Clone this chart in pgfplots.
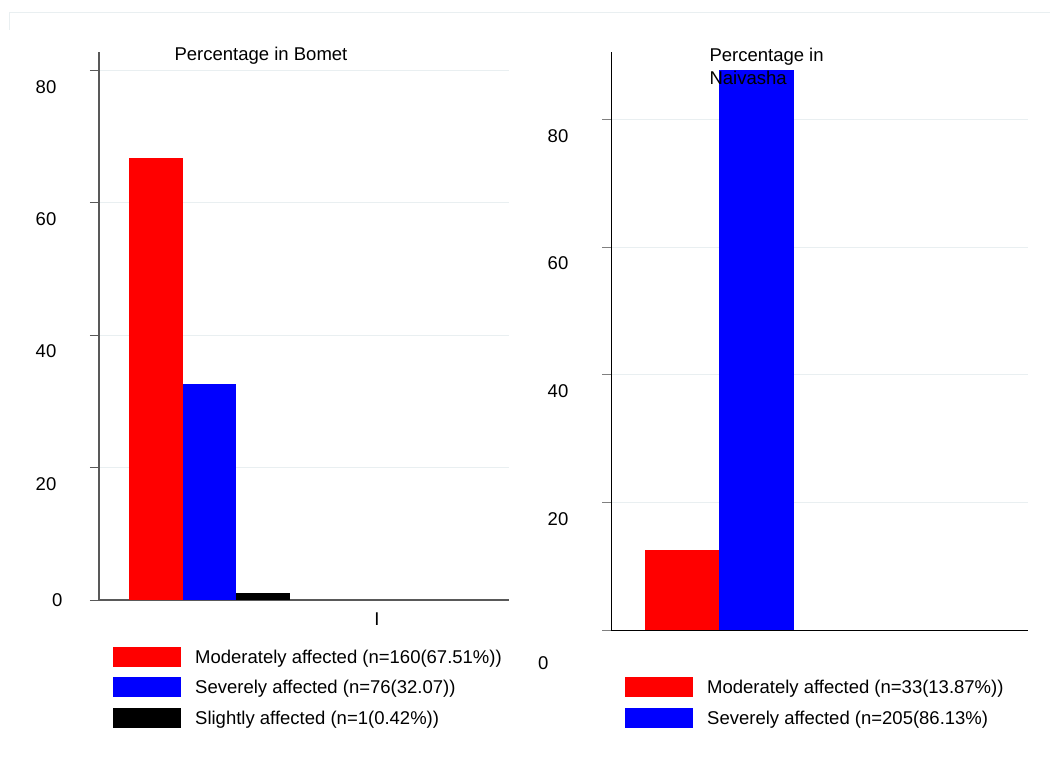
\documentclass[border=0pt]{standalone}
\usepackage{fontspec}
\setmainfont{Liberation Sans}
\usepackage{pgfplots}
\pgfplotsset{compat=1.18}
\definecolor{gridc}{HTML}{E9EFF1}
\pgfplotsset{
  sw/.style={legend image code/.code={\fill[#1] (0pt,-9.6pt) rectangle (68pt,10.4pt);}},
  common/.style={
    scale only axis, anchor=south west,
    axis lines=left, axis line style={-},
    /pgf/number format/assume math mode=true,
    ymin=0,
    ytick={20,40,60,80},
    ymajorgrids, grid style={gridc, line width=1pt},
    tick align=outside, major tick length=9pt,
    ytick style={line width=0.9pt},
    yticklabel style={anchor=east, inner sep=0pt, xshift=-33.5pt, yshift=-16.5pt},
    xtick style={draw=none},
    ybar, bar shift=0pt,
    legend cell align=left,
    legend style={draw=none, fill=none, inner sep=0pt, anchor=north west,
      nodes={inner sep=0pt}, row sep=10.5pt,
      /tikz/every odd column/.append style={column sep=14pt}},
  }
}
\begin{document}
\begin{tikzpicture}[font=\fontsize{18.5pt}{23.3pt}\selectfont]
\path[use as bounding box] (0,0) rectangle (1050pt,772pt);
\draw[gridc, line width=0.8pt] (9pt,742pt) -- (9pt,760pt) -- (1050pt,760pt);
% Left panel: Bomet
\begin{axis}[common,
  at={(99pt,172pt)}, width=410pt, height=548.3pt,
  xmin=0, xmax=410, ymax=82.8,
  axis line style={black!65, line width=1.2pt},
  ytick style={black!65},
  extra y ticks={0},
  extra y tick style={grid=none, yticklabel style={yshift=16.5pt, xshift=6pt}},
  xtick={278}, xticklabels={I},
  bar width=53.7pt,
  legend style={at={(0.0341,-0.0852)}},
]
\addplot[fill=red, draw=none, sw=red] coordinates {(56.9,66.7)};
\addlegendentry{Moderately affected (n=160(67.51\%))}
\addplot[fill=blue, draw=none, sw=blue] coordinates {(110.4,32.6)};
\addlegendentry{Severely affected (n=76(32.07))}
\addplot[fill=black, draw=none, sw=black] coordinates {(164.0,1.0)};
\addlegendentry{Slightly affected (n=1(0.42\%))}
\end{axis}
% Right panel: Naivasha
\begin{axis}[common,
  at={(611pt,141.7pt)}, width=417pt, height=578.6pt,
  xmin=0, xmax=417, ymax=90.6,
  axis line style={black, line width=1pt},
  extra y ticks={0},
  extra y tick style={grid=none, yticklabel style={yshift=-16.2pt, xshift=-20pt}},
  xtick=\empty,
  bar width=74.5pt,
  legend style={at={(0.0336,-0.0812)}},
]
\addplot[fill=red, draw=none, sw=red] coordinates {(71.2,12.57)};
\addlegendentry{Moderately affected (n=33(13.87\%))}
\addplot[fill=blue, draw=none, sw=blue] coordinates {(145.7,87.7)};
\addlegendentry{Severely affected (n=205(86.13\%)}
\end{axis}
\node[anchor=base, inner sep=0pt] at (261pt,711.3pt) {Percentage in Bomet};
\node[anchor=base west, inner sep=0pt] at (709.3pt,710.3pt) {Percentage in};
\node[anchor=base west, inner sep=0pt] at (709.3pt,687pt) {Naivasha};
\end{tikzpicture}
\end{document}
